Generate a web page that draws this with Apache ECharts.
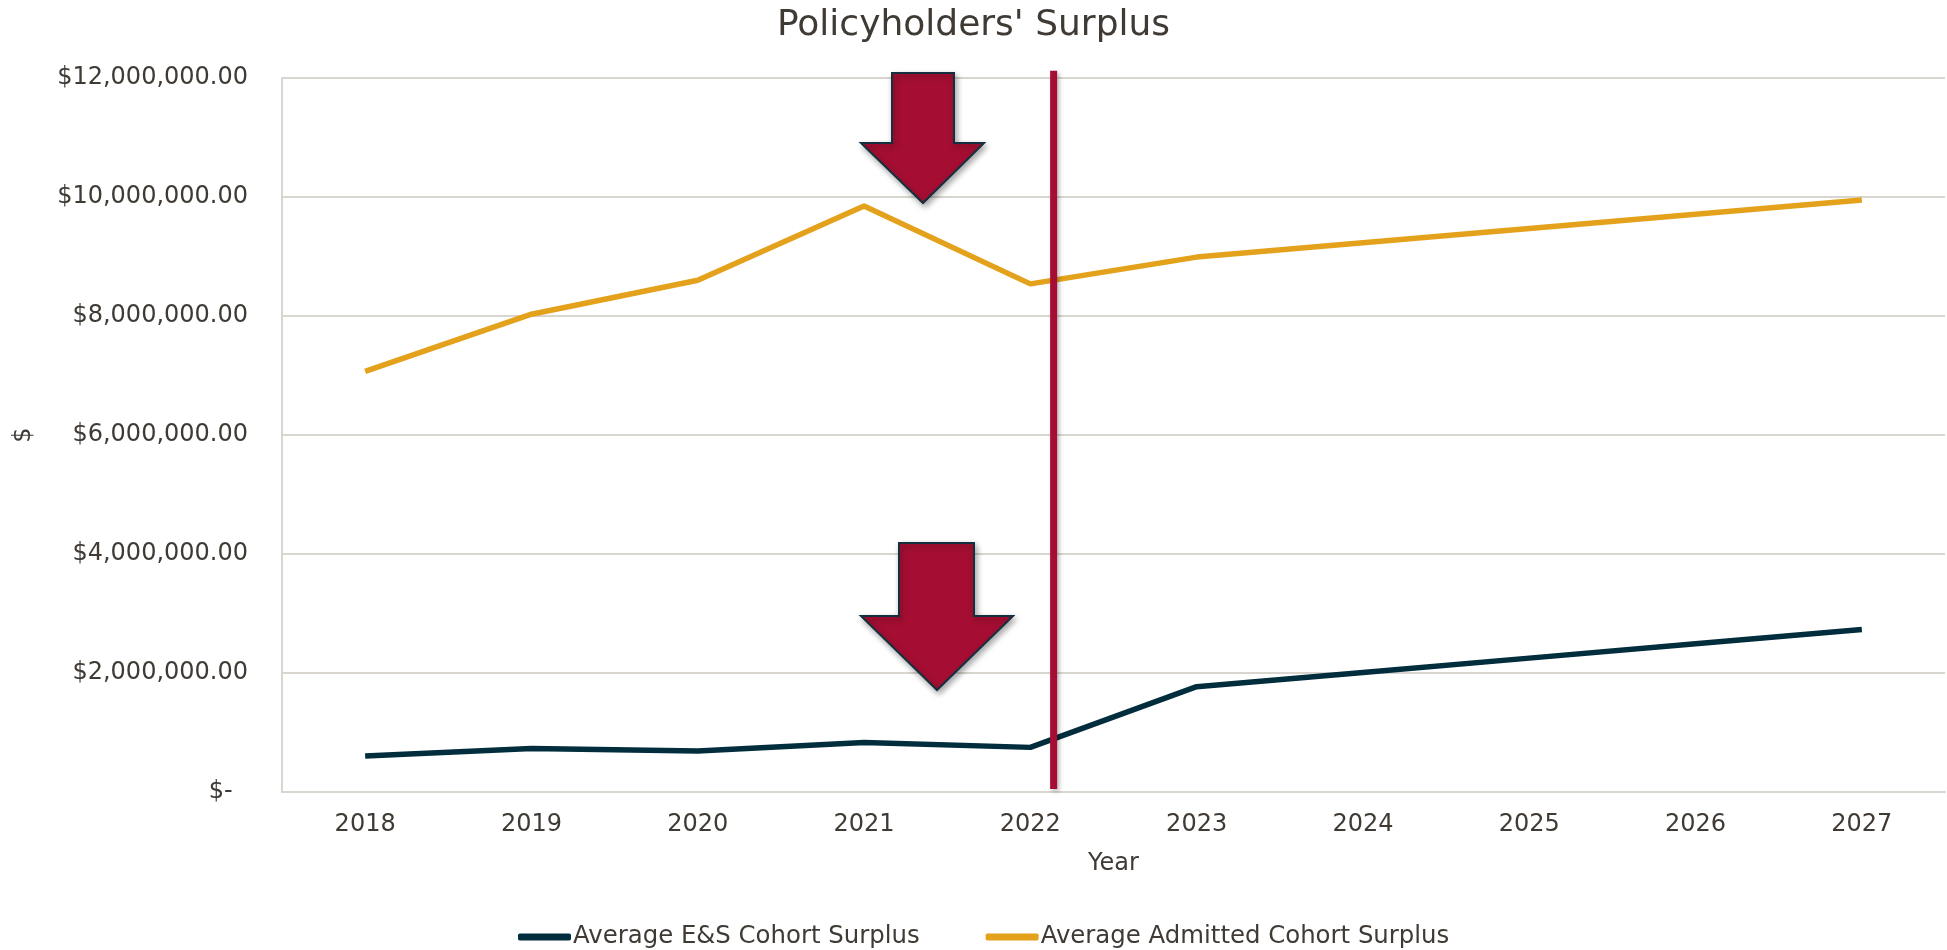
<!DOCTYPE html>
<html>
<head>
<meta charset="utf-8">
<script src="https://cdn.jsdelivr.net/npm/echarts@6/dist/echarts.min.js"></script>
<style>
  html, body { margin: 0; padding: 0; background: #fff; }
  #chart { width: 1947px; height: 950px; }
</style>
</head>
<body>
<div id="chart"></div>
<script>
let years = ['2018', '2019', '2020', '2021', '2022', '2023', '2024', '2025', '2026', '2027'];
let esSurplus = [605000, 730000, 690000, 830000, 750000, 1770000, 2010000, 2250000, 2490000, 2730000];
let admittedSurplus = [7070000, 8030000, 8600000, 9850000, 8540000, 8990000, 9230000, 9470000, 9710000, 9950000];
let dividerYear = 2022.14; // red vertical line, just after 2022
let dividerSpan = [12120000, 50000];

let textColor = '#403a35';
let font = 'DejaVu Sans';
let colors = ['#022d3d', '#e4a11b'];

// down arrows (annotations, pixel outlines)
let arrowTop = [[892, 73], [954, 73], [954, 143], [984, 143], [923, 203], [861, 143], [892, 143]];
let arrowBottom = [[899, 543], [974, 543], [974, 616], [1013, 616], [937, 690], [861, 616], [899, 616]];

function money(v) {
  if (v === 0) return '$-  ';
  return '$' + v.toLocaleString('en-US', { minimumFractionDigits: 2, maximumFractionDigits: 2 });
}

function arrow(points) {
  return {
    type: 'polygon',
    z: 100,
    shape: { points: points },
    style: {
      fill: '#a50e32',
      stroke: '#14303f',
      lineWidth: 2,
      shadowBlur: 6,
      shadowOffsetX: 2,
      shadowOffsetY: 3,
      shadowColor: 'rgba(0,0,0,0.35)'
    }
  };
}

let chart = echarts.init(document.getElementById('chart'));
let option = {
  animation: false,
  color: colors,
  textStyle: { fontFamily: font, color: textColor },
  title: {
    text: "Policyholders' Surplus",
    left: 'center',
    top: 8,
    padding: 0,
    textStyle: { fontFamily: font, fontSize: 36, fontWeight: 'normal', color: textColor }
  },
  legend: {
    data: ['Average E&S Cohort Surplus', 'Average Admitted Cohort Surplus'],
    left: 513,
    top: 920,
    icon: 'roundRect',
    itemWidth: 53,
    itemHeight: 7,
    itemGap: 66,
    textStyle: { fontFamily: font, fontSize: 24.4, color: textColor, padding: [0, 0, 0, -3] }
  },
  grid: {
    left: 282,
    right: 2,
    top: 78,
    bottom: 158,
    containLabel: false
  },
  xAxis: [
    {
      type: 'category',
      data: years,
      name: 'Year',
      nameLocation: 'middle',
      nameGap: 60,
      nameTextStyle: { fontFamily: font, fontSize: 24, color: textColor },
      axisLine: { lineStyle: { color: '#d9d6d0', width: 2 } },
      axisTick: { show: false },
      axisLabel: { margin: 21, fontFamily: font, fontSize: 24, color: textColor }
    },
    {
      // hidden value axis used to place the divider between categories
      type: 'value',
      min: 2017.5,
      max: 2027.5,
      show: false
    }
  ],
  yAxis: {
    type: 'value',
    min: 0,
    max: 12000000,
    interval: 2000000,
    name: '$',
    nameLocation: 'middle',
    nameRotate: 90,
    nameGap: 246,
    nameTextStyle: { fontFamily: font, fontSize: 24, color: textColor },
    axisLine: { show: true, lineStyle: { color: '#d9d6d0', width: 2 } },
    axisTick: { show: false },
    splitLine: { lineStyle: { color: '#d9d6d0', width: 2 } },
    axisLabel: {
      margin: 34,
      fontFamily: font,
      fontSize: 24,
      color: textColor,
      formatter: money
    }
  },
  series: [
    {
      name: 'Average E&S Cohort Surplus',
      type: 'line',
      data: esSurplus,
      symbol: 'none',
      lineStyle: { width: 5.5, color: colors[0] }
    },
    {
      name: 'Average Admitted Cohort Surplus',
      type: 'line',
      data: admittedSurplus,
      symbol: 'none',
      lineStyle: { width: 5.5, color: colors[1] }
    },
    {
      name: 'divider',
      type: 'line',
      xAxisIndex: 1,
      data: dividerSpan.map(v => [dividerYear, v]),
      symbol: 'none',
      clip: false,
      silent: true,
      z: 5,
      lineStyle: {
        color: '#a50e32',
        width: 7,
        cap: 'butt',
        shadowBlur: 4,
        shadowOffsetX: 2,
        shadowOffsetY: 2,
        shadowColor: 'rgba(0,0,0,0.3)'
      }
    }
  ],
  graphic: [arrow(arrowTop), arrow(arrowBottom)]
};

chart.setOption(option);
</script>
</body>
</html>
